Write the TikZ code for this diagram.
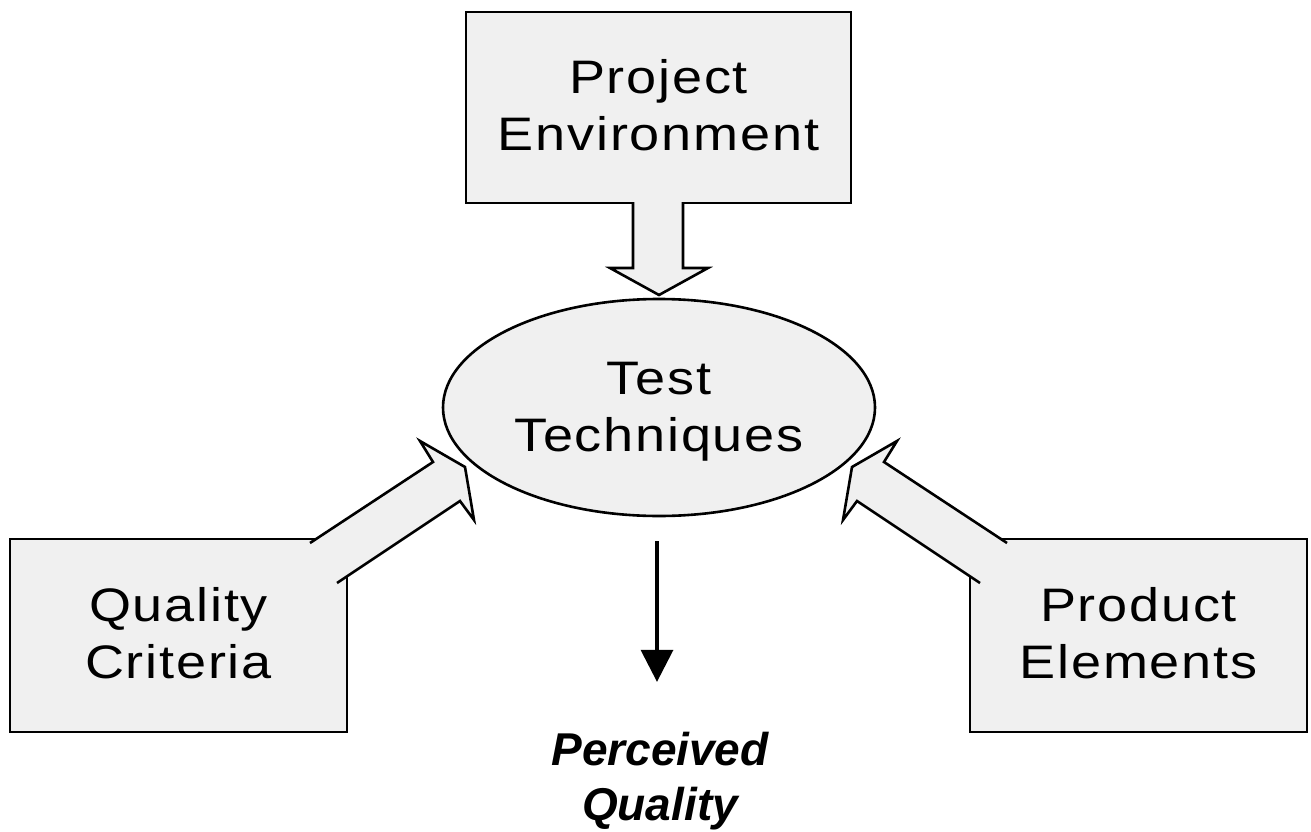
\documentclass[tikz,border=0pt]{standalone}
\usepackage{fontspec}
\setmainfont{Liberation Sans}
\newfontfamily\labelfont[LetterSpace=3.8,FakeStretch=1.15]{Liberation Sans}
\usetikzlibrary{arrows.meta,shapes.geometric}
\definecolor{panelfill}{RGB}{240,240,240}
% invisible struts that balance the two-line labels vertically
\newcommand\lowstrut{\rule[-5pt]{0pt}{5pt}}
\newcommand\highstrut{\rule{0pt}{40pt}}
\tikzset{
  lbl/.style={font=\labelfont\fontsize{47}{57}\selectfont, align=center, inner sep=0pt},
  panel/.style={lbl, rectangle, draw=black, line width=2.8pt, fill=panelfill,
                minimum width=337pt, minimum height=193pt},
  hub/.style={lbl, ellipse, draw=black, line width=2.6pt, fill=panelfill,
              minimum width=432pt, minimum height=217pt},
  outcome/.style={font=\bfseries\itshape\fontsize{46}{55}\selectfont, align=center, inner sep=0pt},
  blockfill/.style={fill=panelfill},
  blockedge/.style={draw=black, line width=2.6pt, line join=miter},
  result/.style={line width=3.4pt, -{Triangle[width=32pt,length=32pt]}},
}
\begin{document}
\begin{tikzpicture}[x=1pt, y=-1pt]
  \useasboundingbox (0,0) rectangle (1311,832);

  % the four concepts
  \node[panel, minimum width=385pt, minimum height=191pt] (env) at (658.5,107.5) {Project\\Environment\lowstrut};
  \node[hub] (tt) at (659,407.5) {\highstrut Test\\Techniques};
  \node[panel] (qc) at (178.5,635.5) {Quality\\Criteria\lowstrut};
  \node[panel] (pe) at (1138.5,635.5) {Product\\Elements\lowstrut};
  \node[outcome] (pq) at (660,781) {Perceived\\Quality};

  % block arrow: environment -> techniques
  \fill[blockfill] (633,198) -- (633,268) -- (610,268) -- (659,295) -- (708,268) -- (683,268) -- (683,198) -- cycle;
  \draw[blockedge] (633,202) -- (633,268) -- (610,268) -- (659,295) -- (708,268) -- (683,268) -- (683,202);

  % block arrow: quality criteria -> techniques
  \fill[blockfill] (310,543) -- (433,462) -- (420,441) -- (465,467) -- (474,520) -- (460,501) -- (337,583) -- cycle;
  \draw[blockedge] (310,543) -- (433,462) -- (420,441) -- (465,467) -- (474,520) -- (460,501) -- (337,583);

  % block arrow: product elements -> techniques
  \fill[blockfill] (1007,543) -- (884,462) -- (897,441) -- (852,467) -- (843,520) -- (857,501) -- (980,583) -- cycle;
  \draw[blockedge] (1007,543) -- (884,462) -- (897,441) -- (852,467) -- (843,520) -- (857,501) -- (980,583);

  % outcome arrow
  \draw[result, shorten <=24pt, shorten >=50pt] ([xshift=-2pt]tt.south) -- ([xshift=-3pt]pq.north);
\end{tikzpicture}
\end{document}
